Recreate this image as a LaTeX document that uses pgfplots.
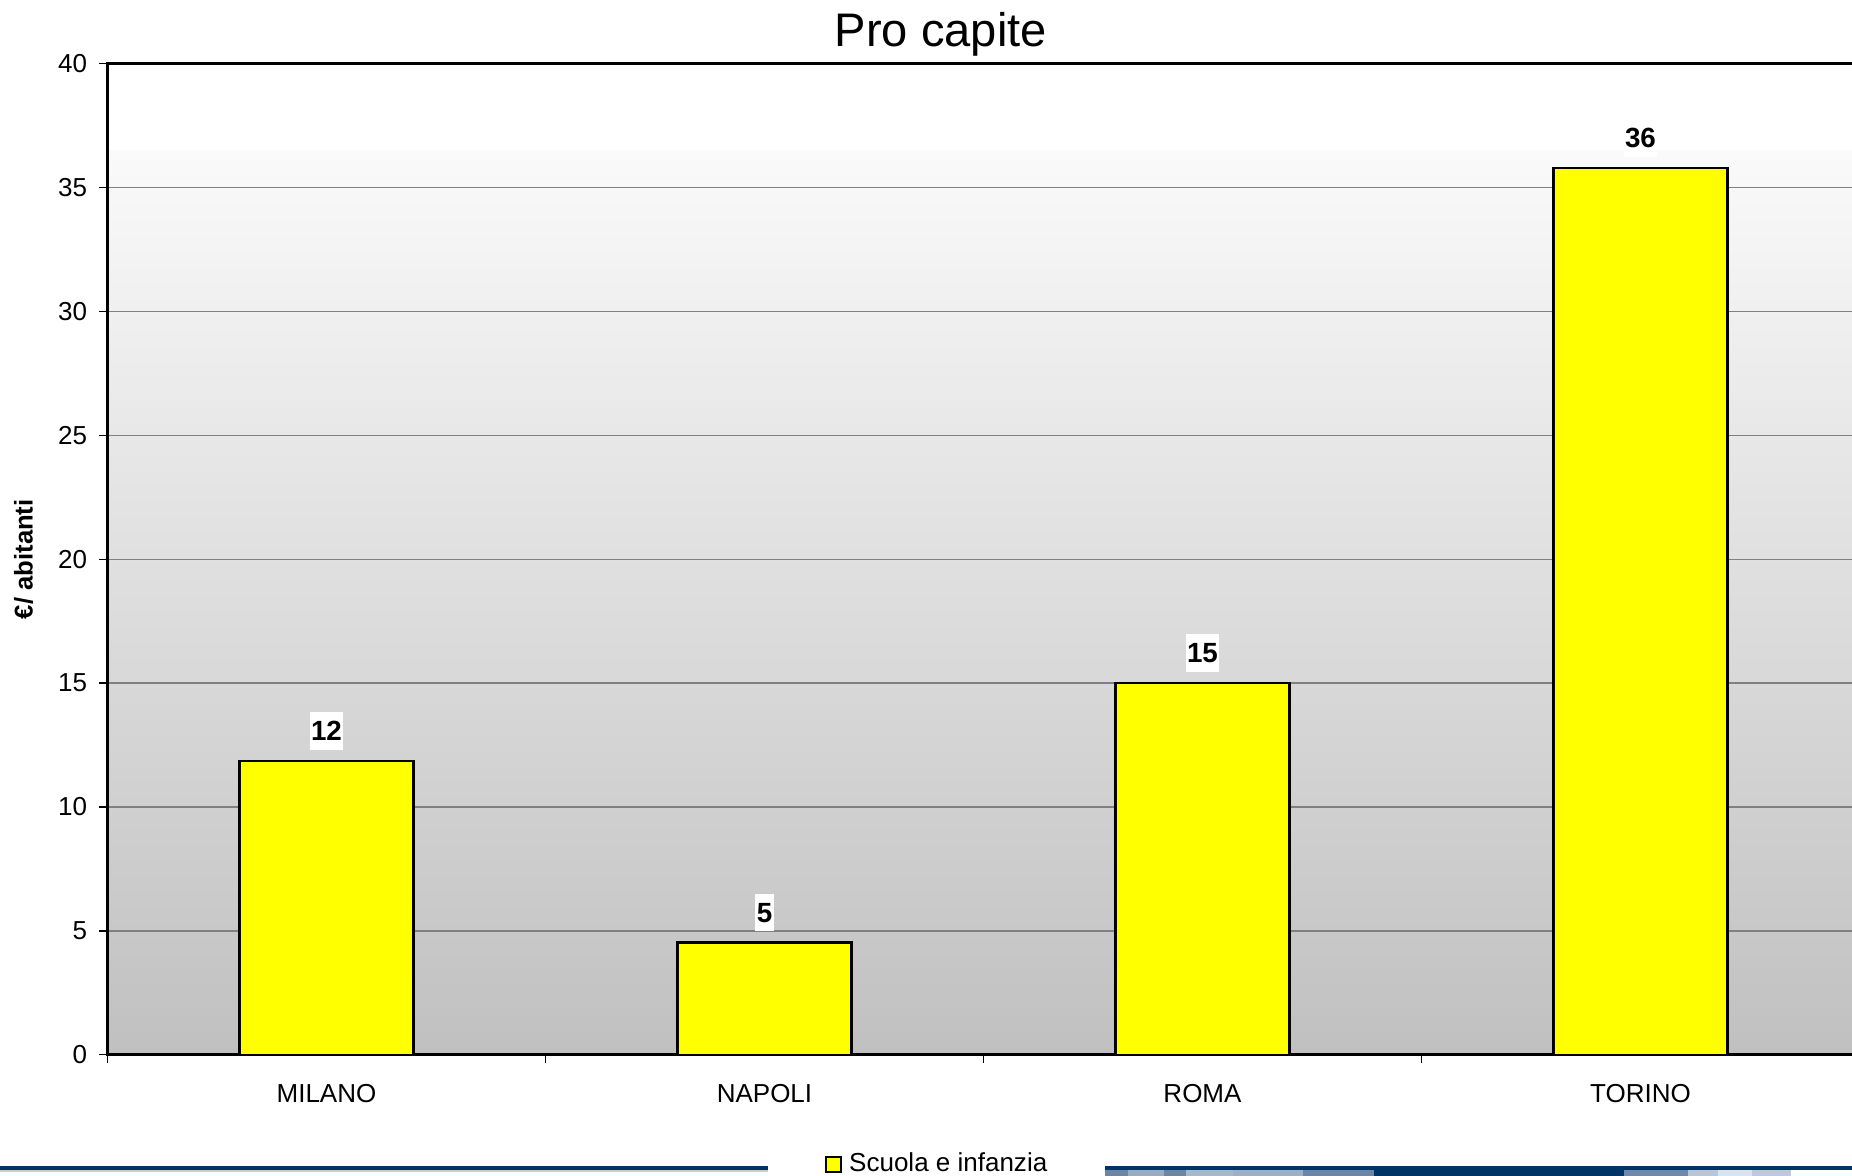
\documentclass[border=0pt]{standalone}
\usepackage{pgfplots}
\pgfplotsset{compat=1.18}
\usepackage{fontspec}
\setmainfont{Liberation Sans}
\definecolor{navy}{RGB}{0,51,102}
\definecolor{yel}{RGB}{255,255,0}
\definecolor{bgbot}{RGB}{192,192,192}
\definecolor{bgtop}{RGB}{250,250,250}
\definecolor{gridgray}{RGB}{128,128,128}
\pgfdeclareverticalshading{bgshade}{100bp}{color(0bp)=(bgbot); color(25bp)=(bgbot); color(70.6bp)=(bgtop); color(70.7bp)=(white); color(100bp)=(white)}

\begin{document}
\begin{tikzpicture}
\useasboundingbox (0,0) rectangle (185.2mm,117.6mm);
\begin{axis}[
  at={(10.75mm,12.13mm)}, anchor=south west,
  scale only axis, width=175.2mm, height=99.09mm,
  xmin=0, xmax=4, ymin=0, ymax=40,
  ytick={0,5,...,40},
  xtick={0,1,2,3,4},
  xticklabels={MILANO,NAPOLI,ROMA,TORINO},
  x tick label as interval,
  tick pos=left,
  tick align=outside,
  major tick length=0.8mm,
  tick style={black, line width=0.4pt},
  ymajorgrids,
  grid style={draw=gridgray, line width=0.4pt},
  axis line style={black, line width=0.8pt},
  axis background/.style={shading=bgshade},
  /pgf/number format/assume math mode=true,
  tick label style={font=\fontsize{7.4}{9}\selectfont},
  xticklabel style={yshift=-0.9mm},
  title={Pro capite},
  every axis title/.style={at={(axis description cs:0.4757,1)}, anchor=base, yshift=1.7mm, font=\fontsize{13.4}{16}\selectfont},
  ylabel={€/ abitanti},
  every axis y label/.style={at={(axis description cs:0,0.5)}, xshift=-8.4mm, rotate=90, anchor=center, font=\fontsize{7.3}{9}\selectfont\bfseries},
  legend style={at={(axis description cs:0.475,-0.1108)}, anchor=center, draw=none, fill=none, font=\fontsize{7.4}{9}\selectfont, inner sep=0pt},
]
\addplot[ybar, bar width=17.4mm, fill=yel, draw=black, line width=0.6pt,
  nodes near coords={\pgfmathprintnumber[fixed,precision=0]{\pgfplotspointmeta}},
  every node near coord/.append style={font=\fontsize{7.9}{9}\selectfont\bfseries, fill=white, inner xsep=0.15mm, inner ysep=0.9mm, anchor=south, yshift=1.0mm},
  legend image code/.code={\draw[fill=yel,draw=black,line width=0.6pt] (0mm,-0.75mm) rectangle (1.5mm,0.75mm);}
] coordinates {(0.5,11.87) (1.5,4.53) (2.5,15.02) (3.5,35.80)};
\addlegendentry{Scuola e infanzia}
\end{axis}
% slide decorations
\fill[gray!40] (0,0.4mm) rectangle (76.8mm,0.6mm);
\fill[navy] (0,0.6mm) rectangle (76.8mm,0.95mm);
\fill[navy] (110.5mm,0.6mm) rectangle (185.2mm,0.95mm);
\fill[fill={rgb,255:red,111;green,134;blue,163}] (110.5mm,0) rectangle (112.8mm,0.6mm);
\fill[fill={rgb,255:red,154;green,172;blue,194}] (112.8mm,0) rectangle (116.4mm,0.6mm);
\fill[fill={rgb,255:red,111;green,134;blue,163}] (116.4mm,0) rectangle (118.6mm,0.6mm);
\fill[fill={rgb,255:red,168;green,184;blue,203}] (118.6mm,0) rectangle (123.3mm,0.6mm);
\fill[fill={rgb,255:red,159;green,176;blue,197}] (123.3mm,0) rectangle (130.3mm,0.6mm);
\fill[fill={rgb,255:red,108;green,135;blue,166}] (130.3mm,0) rectangle (137.4mm,0.6mm);
\fill[navy] (137.4mm,0) rectangle (162.4mm,0.6mm);
\fill[fill={rgb,255:red,112;green,137;blue,168}] (162.4mm,0) rectangle (168.8mm,0.6mm);
\fill[fill={rgb,255:red,186;green,198;blue,213}] (168.8mm,0) rectangle (171.8mm,0.6mm);
\fill[fill={rgb,255:red,221;green,227;blue,235}] (171.8mm,0) rectangle (175.2mm,0.6mm);
\fill[fill={rgb,255:red,191;green,202;blue,216}] (175.2mm,0) rectangle (179.1mm,0.6mm);
\end{tikzpicture}
\end{document}
